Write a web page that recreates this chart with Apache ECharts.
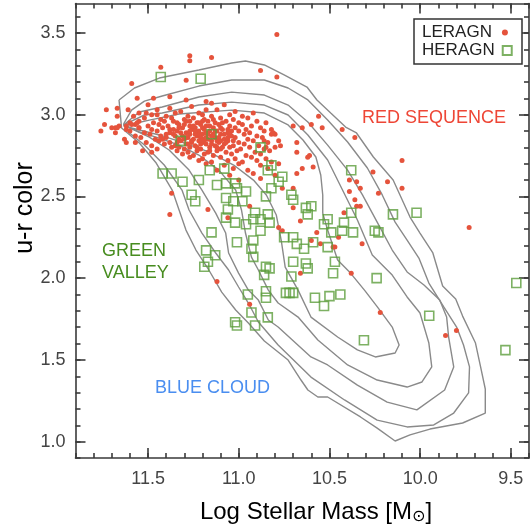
<!DOCTYPE html>
<html><head><meta charset="utf-8">
<script src="https://cdn.jsdelivr.net/npm/echarts@6/dist/echarts.min.js"></script>
<style>html,body{margin:0;padding:0;background:#fff}#c{width:532px;height:531px}</style>
</head><body><div id="c"></div>
<script>
const xTickLabels = [9.5, 10.0, 10.5, 11.0, 11.5];
const yTickLabels = [1.0, 1.5, 2.0, 2.5, 3.0, 3.5];

// LERAGN (red dots): dense red-sequence cluster + scattered points
const leragnCluster = [
 [11.50,3.06],[11.38,3.04],[11.26,3.05],[11.18,3.03],[11.08,3.06],
 [11.55,3.01],[11.45,3.03],[11.32,3.02],[11.22,3.01],[11.12,3.03],[11.02,3.02],
 [11.58,2.99],[11.48,3.00],[11.40,2.99],[11.35,3.01],[11.28,2.99],[11.20,3.00],[11.15,2.99],[11.05,3.00],[10.98,2.99],[10.92,3.01],
 [11.52,2.98],[11.43,2.97],[11.37,2.98],[11.30,2.97],[11.25,2.98],[11.19,2.97],[11.10,2.98],[11.03,2.97],[10.95,2.98],
 [11.60,2.95],[11.55,2.96],[11.47,2.95],[11.41,2.96],[11.34,2.95],[11.29,2.96],[11.23,2.95],[11.17,2.96],[11.13,2.95],[11.07,2.96],[11.00,2.95],[10.90,2.96],[10.85,2.95],
 [11.74,2.94],[11.66,2.93],[11.57,2.94],[11.50,2.93],[11.44,2.94],[11.39,2.93],[11.33,2.94],[11.27,2.93],[11.21,2.94],[11.16,2.93],[11.11,2.94],[11.05,2.93],[10.98,2.94],[10.93,2.93],
 [11.70,2.92],[11.62,2.91],[11.55,2.92],[11.48,2.91],[11.42,2.92],[11.36,2.91],[11.31,2.92],[11.26,2.91],[11.24,2.92],[11.19,2.91],[11.14,2.92],[11.09,2.91],[11.02,2.92],[10.96,2.91],[10.88,2.92],[10.82,2.91],
 [11.76,2.90],[11.68,2.89],[11.60,2.90],[11.52,2.89],[11.45,2.90],[11.38,2.89],[11.34,2.90],[11.29,2.89],[11.22,2.90],[11.18,2.89],[11.12,2.90],[11.06,2.89],[11.00,2.90],[10.94,2.89],[10.86,2.90],
 [11.57,2.87],[11.49,2.88],[11.43,2.87],[11.36,2.88],[11.31,2.87],[11.27,2.88],[11.23,2.87],[11.20,2.88],[11.15,2.87],[11.10,2.88],[11.04,2.87],[10.97,2.88],[10.90,2.87],[10.80,2.88],
 [11.63,2.85],[11.54,2.86],[11.46,2.85],[11.40,2.86],[11.33,2.85],[11.28,2.86],[11.25,2.85],[11.21,2.86],[11.17,2.85],[11.13,2.86],[11.08,2.85],[11.02,2.86],[10.95,2.85],[10.87,2.86],
 [11.51,2.83],[11.44,2.84],[11.38,2.83],[11.32,2.84],[11.26,2.83],[11.22,2.84],[11.19,2.83],[11.15,2.84],[11.11,2.83],[11.06,2.84],[11.00,2.83],[10.92,2.84],[10.84,2.83],[10.78,2.84],
 [11.48,2.81],[11.41,2.82],[11.35,2.81],[11.29,2.82],[11.24,2.81],[11.18,2.82],[11.13,2.81],[11.08,2.82],[11.03,2.81],[10.97,2.82],[10.89,2.81],
 [11.45,2.79],[11.37,2.80],[11.30,2.79],[11.27,2.80],[11.21,2.79],[11.16,2.80],[11.10,2.79],[11.05,2.80],[10.99,2.79],[10.94,2.80],[10.86,2.79],[10.80,2.80],
 [11.34,2.78],[11.28,2.77],[11.23,2.78],[11.17,2.77],[11.12,2.78],[11.07,2.77],[11.01,2.78],[10.91,2.77],[10.83,2.78],
 [11.31,2.76],[11.25,2.75],[11.19,2.76],[11.14,2.75],[11.04,2.76],[10.96,2.75],[10.88,2.76],
 [11.27,2.74],[11.20,2.73],[11.10,2.74],[11.02,2.73],[10.93,2.74],[10.85,2.73],
 [11.22,2.72],[11.15,2.71],[11.06,2.72],[10.98,2.71],[10.90,2.72],[10.82,2.71],
 [11.18,2.70],[11.08,2.69],[11.00,2.70],[10.88,2.69],[10.78,2.70],
 [11.12,2.66],[11.03,2.67],[10.95,2.66],[10.84,2.67],
 [11.05,2.63],[10.92,2.64],[10.80,2.63],
 [11.00,2.60],[10.88,2.61],
 [11.36,2.96],[11.33,2.92],[11.30,2.94],[11.27,2.90],[11.25,2.93],[11.22,2.88],[11.20,2.92],[11.18,2.86],[11.16,2.90],[11.14,2.88],
 [11.12,2.84],[11.10,2.92],[11.08,2.88],[11.06,2.86],[11.04,2.90],[11.35,2.87],[11.32,2.89],[11.29,2.86],[11.26,2.84],[11.24,2.88],
 [11.21,2.82],[11.19,2.85],[11.17,2.88],[11.15,2.82],[11.13,2.90],[11.11,2.86],[11.09,2.80],[11.07,2.83],[11.05,2.88],[11.03,2.84],
 [11.33,2.80],[11.28,2.82],[11.23,2.80],[11.20,2.84],[11.16,2.78],[11.12,2.80],[11.30,2.85],[11.27,2.96],[11.22,2.95],[11.18,2.93],
 [11.14,2.97],[11.09,2.95],[11.38,2.91],[11.40,2.88],[11.42,2.85],[11.34,2.83],[11.24,2.90],[11.20,2.96],[11.10,2.84],[11.06,2.91]
];
const leragnScatter = [
 [11.27,3.36],[11.27,3.33],[11.15,3.35],[11.43,3.29],[10.88,3.27],[11.59,3.19],[11.29,3.21],[10.79,3.49],[10.79,3.23],
 [11.56,3.10],[11.47,3.10],[11.38,3.11],[11.29,3.09],[11.18,3.08],[11.15,3.07],
 [11.73,3.03],[11.67,3.04],[11.67,2.99],[11.61,3.03],[11.51,3.01],[11.45,3.00],
 [11.68,2.92],[11.67,2.92],[11.62,2.93],[11.59,2.94],[11.56,2.95],[11.55,2.92],
 [11.62,2.83],[11.57,2.83],[11.53,2.78],[11.48,2.77],
 [11.37,2.52],[11.38,2.39],[11.17,2.42],[11.06,2.37],[10.94,2.44],[10.78,2.31],[10.76,2.29],[11.12,1.98],[10.94,1.84],
 [10.56,2.99],[10.70,2.93],[10.65,2.92],[10.60,2.94],[10.54,2.92],[10.43,2.91],[10.82,2.88],[10.36,2.86],
 [10.77,2.81],[10.68,2.83],[10.68,2.77],[10.61,2.75],[10.86,2.84],[10.85,2.80],[10.81,2.89],[10.62,2.74],
 [10.10,2.72],[10.59,2.68],[10.65,2.67],[10.68,2.64],
 [10.39,2.60],[10.35,2.59],[10.26,2.65],[10.18,2.59],[10.10,2.55],[10.39,2.53],[10.33,2.55],[10.23,2.52],
 [10.36,2.48],[10.35,2.44],[10.33,2.44],[10.42,2.40],[10.70,2.43],[10.76,2.55],[10.70,2.55],
 [10.57,2.28],[10.55,2.21],[10.47,2.19],[10.32,2.21],[9.73,2.31],[10.66,2.35],[10.60,2.23],[10.45,2.25],[10.48,2.19],
 [10.38,2.03],[10.66,2.03],[10.22,1.79],[9.86,1.65],[9.80,1.68]
];
const leragn = leragnCluster.concat(leragnScatter);

// HERAGN (green open squares)
const heragn = [
 [11.43,3.23],[11.21,3.22],[11.32,2.84],[11.15,2.88],[10.88,2.80],
 [11.42,2.64],[11.37,2.64],[11.31,2.59],[11.22,2.60],[11.16,2.66],[11.08,2.67],
 [11.26,2.51],[11.24,2.47],[11.12,2.57],[11.07,2.58],[11.02,2.58],[11.01,2.55],[10.96,2.53],
 [11.07,2.49],[11.03,2.47],[10.98,2.47],[10.91,2.40],[11.06,2.42],[11.07,2.37],[11.02,2.34],
 [10.96,2.33],[10.92,2.36],[10.88,2.36],[10.88,2.29],[11.15,2.28],[11.01,2.22],[10.92,2.23],
 [11.18,2.17],[11.13,2.14],[10.93,2.18],[10.92,2.13],[11.17,2.10],[11.19,2.07],
 [10.82,2.69],[10.84,2.66],[10.38,2.66],[10.76,2.62],[10.78,2.59],[10.82,2.55],[10.85,2.50],
 [10.71,2.51],[10.70,2.48],[10.63,2.43],[10.60,2.44],[10.62,2.39],[10.84,2.39],[10.83,2.34],
 [10.51,2.36],[10.42,2.34],[10.38,2.40],[10.53,2.33],[10.49,2.28],[10.43,2.29],[10.37,2.28],
 [10.15,2.39],[10.02,2.40],[10.25,2.29],[10.23,2.28],
 [10.75,2.25],[10.70,2.25],[10.68,2.21],[10.64,2.18],[10.59,2.22],[10.51,2.19],
 [10.70,2.10],[10.63,2.09],[10.47,2.10],[10.62,2.06],
 [10.95,1.90],[10.93,1.79],[11.02,1.73],[11.01,1.71],[10.91,1.71],
 [10.71,2.01],[10.48,2.03],[10.24,2.00],[9.47,1.97],
 [10.85,1.92],[10.85,1.88],[10.84,1.76],[10.74,1.91],[10.72,1.91],[10.70,1.91],
 [10.58,1.88],[10.53,1.83],[10.50,1.89],[10.44,1.90],[9.95,1.77],[10.31,1.62],[9.53,1.56],
 [10.85,2.07],[10.83,2.06],[10.86,2.02]
];

// density contours (outer to inner)
const contour1 = [[11.66,3.09],[11.575,3.163],[11.438,3.224],[11.22,3.273],[11.039,3.316],[10.963,3.328],[10.859,3.304],[10.75,3.243],[10.624,3.169],[10.569,3.09],[10.493,3.01],[10.411,2.924],[10.351,2.888],[10.258,2.741],[10.149,2.6],[10.056,2.374],[10.001,2.276],[9.93,2.154],[9.876,1.952],[9.804,1.872],[9.766,1.768],[9.695,1.603],[9.668,1.463],[9.641,1.322],[9.641,1.175],[9.766,1.114],[9.946,1.077],[10.056,1.041],[10.138,1.004],[10.237,1.083],[10.329,1.151],[10.51,1.273],[10.564,1.273],[10.619,1.316],[10.657,1.377],[10.728,1.499],[10.859,1.616],[10.947,1.726],[11.017,1.805],[11.094,1.915],[11.165,2.05],[11.236,2.172],[11.291,2.294],[11.329,2.417],[11.367,2.539],[11.455,2.704],[11.548,2.827],[11.646,2.918],[11.66,3.09]];
const contour2 = [[11.635,2.943],[11.591,3.028],[11.52,3.083],[11.422,3.114],[11.22,3.175],[11.039,3.212],[10.859,3.212],[10.728,3.163],[10.619,3.09],[10.51,2.967],[10.4,2.833],[10.291,2.674],[10.209,2.509],[10.138,2.343],[10.072,2.233],[10.007,2.123],[9.952,1.97],[9.87,1.824],[9.799,1.701],[9.761,1.591],[9.728,1.457],[9.733,1.298],[9.815,1.175],[9.925,1.102],[10.072,1.09],[10.237,1.132],[10.417,1.255],[10.602,1.395],[10.783,1.591],[10.892,1.732],[10.947,1.848],[11.001,1.946],[11.056,2.05],[11.127,2.154],[11.203,2.276],[11.274,2.417],[11.313,2.539],[11.411,2.692],[11.52,2.814],[11.602,2.888],[11.635,2.943]];
const contour3 = [[11.635,2.937],[11.548,3.016],[11.422,3.047],[11.22,3.108],[11.039,3.138],[10.859,3.12],[10.728,3.059],[10.619,2.955],[10.51,2.814],[10.4,2.661],[10.318,2.509],[10.237,2.343],[10.154,2.172],[10.072,2.038],[9.979,1.958],[9.892,1.866],[9.854,1.762],[9.843,1.64],[9.815,1.457],[9.865,1.316],[10.018,1.194],[10.182,1.242],[10.346,1.346],[10.51,1.469],[10.602,1.518],[10.783,1.701],[10.837,1.744],[10.892,1.866],[10.947,1.927],[11.001,2.031],[11.056,2.154],[11.072,2.276],[11.127,2.398],[11.203,2.539],[11.274,2.661],[11.384,2.784],[11.493,2.863],[11.575,2.906],[11.635,2.937]];
const contour4 = [[11.635,2.937],[11.52,2.998],[11.422,3.01],[11.22,3.059],[11.039,3.077],[10.859,3.059],[10.728,2.998],[10.619,2.876],[10.51,2.723],[10.428,2.539],[10.346,2.356],[10.264,2.142],[10.154,2.019],[10.072,1.885],[10.001,1.787],[9.952,1.603],[9.936,1.457],[9.99,1.365],[10.072,1.334],[10.237,1.377],[10.4,1.469],[10.564,1.622],[10.673,1.762],[10.783,1.848],[10.837,1.927],[10.892,2.05],[10.93,2.129],[10.963,2.276],[10.985,2.417],[11.017,2.539],[11.11,2.661],[11.22,2.753],[11.329,2.814],[11.438,2.857],[11.548,2.894],[11.635,2.937]];
const contour5 = [[11.635,2.931],[11.493,2.967],[11.329,3.004],[11.039,3.028],[10.859,3.01],[10.728,2.937],[10.646,2.845],[10.575,2.741],[10.548,2.631],[10.537,2.509],[10.537,2.398],[10.51,2.294],[10.455,2.111],[10.384,2.031],[10.307,1.927],[10.236,1.824],[10.154,1.701],[10.116,1.591],[10.138,1.542],[10.247,1.518],[10.346,1.561],[10.455,1.64],[10.602,1.762],[10.673,1.927],[10.744,2.068],[10.766,2.233],[10.793,2.386],[10.848,2.509],[10.919,2.6],[11.028,2.692],[11.165,2.772],[11.302,2.827],[11.438,2.876],[11.548,2.906],[11.635,2.931]];
const contours = [contour1, contour2, contour3, contour4, contour5];

const FONT = '"Liberation Sans", Arial, Helvetica, sans-serif';
const AX = '#3a3a3a';
const chart = echarts.init(document.getElementById('c'), null, {renderer: 'canvas'});

function fmt(v, list) {
  const r = Math.round(v * 10) / 10;
  return list.some(t => Math.abs(t - r) < 1e-6) && Math.abs(v - r) < 1e-6 ? r.toFixed(1) : '';
}
const lineSt = {color: AX, width: 1.6};
function xAx(pos, major, labels) {
  return {
    type: 'value', min: 9.4, max: 11.9, inverse: true, position: pos, interval: 0.1,
    axisLine: {show: !major, onZero: false, lineStyle: lineSt},
    axisTick: major ? {inside: true, length: 10, customValues: xTickLabels, lineStyle: lineSt}
                    : {inside: true, length: 5, lineStyle: lineSt},
    axisLabel: labels ? {show: true, formatter: v => fmt(v, xTickLabels), margin: 12, fontSize: 18, color: '#444', fontFamily: FONT}
                      : {show: false},
    splitLine: {show: false}
  };
}
function yAx(pos, major, labels) {
  return {
    type: 'value', min: 0.9, max: 3.68, position: pos, interval: 0.1,
    axisLine: {show: !major, onZero: false, lineStyle: lineSt},
    axisTick: major ? {inside: true, length: 10, customValues: yTickLabels, lineStyle: lineSt}
                    : {inside: true, length: 5, lineStyle: lineSt},
    axisLabel: labels ? {show: true, formatter: v => fmt(v, yTickLabels), margin: 10, fontSize: 18, color: '#444', fontFamily: FONT, showMaxLabel: false}
                      : {show: false},
    splitLine: {show: false}
  };
}

const series = contours.map((c, i) => ({
  name: 'contour' + (i + 1), type: 'line', data: c, showSymbol: false, symbol: 'none', silent: true,
  xAxisIndex: 0, yAxisIndex: 0, z: 1,
  lineStyle: {color: '#8a8a8a', width: 1.4}
}));
series.push({
  name: 'LERAGN', type: 'scatter', data: leragn, symbol: 'circle', symbolSize: 5,
  xAxisIndex: 0, yAxisIndex: 0, z: 3,
  itemStyle: {color: '#e5533c', opacity: 1}
});
series.push({
  name: 'HERAGN', type: 'scatter', data: heragn, symbol: 'rect', symbolSize: 9,
  xAxisIndex: 0, yAxisIndex: 0, z: 4,
  itemStyle: {color: 'rgba(255,255,255,0)', borderColor: '#5c9e3c', borderWidth: 1.6}
});

chart.setOption({
  animation: false,
  backgroundColor: '#fff',
  grid: {left: 75.5, right: -1, top: 3.5, bottom: 73, containLabel: false},
  xAxis: [xAx('bottom', false, true), xAx('bottom', true, false), xAx('top', false, false), xAx('top', true, false)],
  yAxis: [yAx('left', false, true), yAx('left', true, false), yAx('right', false, false), yAx('right', true, false)],
  legend: [
    {data: [{name: 'LERAGN', icon: 'circle'}], left: 422, top: 24, padding: 0, itemWidth: 6, itemHeight: 6,
     align: 'right', selectedMode: false, textStyle: {fontSize: 17, color: '#222', fontFamily: FONT, padding: [0, 5, 0, 0]}},
    {data: [{name: 'HERAGN', icon: 'rect'}], left: 422, top: 42, padding: 0, itemWidth: 9, itemHeight: 9,
     align: 'right', selectedMode: false, textStyle: {fontSize: 17, color: '#222', fontFamily: FONT, padding: [0, 3, 0, 0]}}
  ],
  graphic: [
    {type: 'rect', z: 3, shape: {x: 414, y: 19, width: 108, height: 45}, style: {fill: '#fff', stroke: '#333', lineWidth: 1.5}},
    {type: 'text', x: 362, y: 118, style: {text: 'RED SEQUENCE', fill: '#ee4636', font: '18px ' + FONT, textVerticalAlign: 'middle'}},
    {type: 'text', x: 102, y: 251, style: {text: 'GREEN', fill: '#478c1f', font: '18px ' + FONT, textVerticalAlign: 'middle'}},
    {type: 'text', x: 102, y: 273, style: {text: 'VALLEY', fill: '#478c1f', font: '18px ' + FONT, textVerticalAlign: 'middle'}},
    {type: 'text', x: 155, y: 388, style: {text: 'BLUE CLOUD', fill: '#4a8ef0', font: '18px ' + FONT, textVerticalAlign: 'middle'}},
    {type: 'text', x: 25, y: 208, rotation: Math.PI / 2,
     style: {text: 'u-r color', fill: '#000', font: '25px ' + FONT, textAlign: 'center', textVerticalAlign: 'middle'}},
    {type: 'text', x: 316, y: 512,
     style: {text: '{a|Log Stellar Mass [M}{b|⊙}{a|]}', textAlign: 'center', textVerticalAlign: 'middle',
             rich: {a: {fontSize: 24, fontFamily: FONT, fill: '#000', color: '#000'},
                    b: {fontSize: 16, fontFamily: '"DejaVu Sans", sans-serif', fill: '#000', color: '#000', padding: [10, 0, 0, 0]}}}}
  ],
  series: series
});
</script></body></html>
